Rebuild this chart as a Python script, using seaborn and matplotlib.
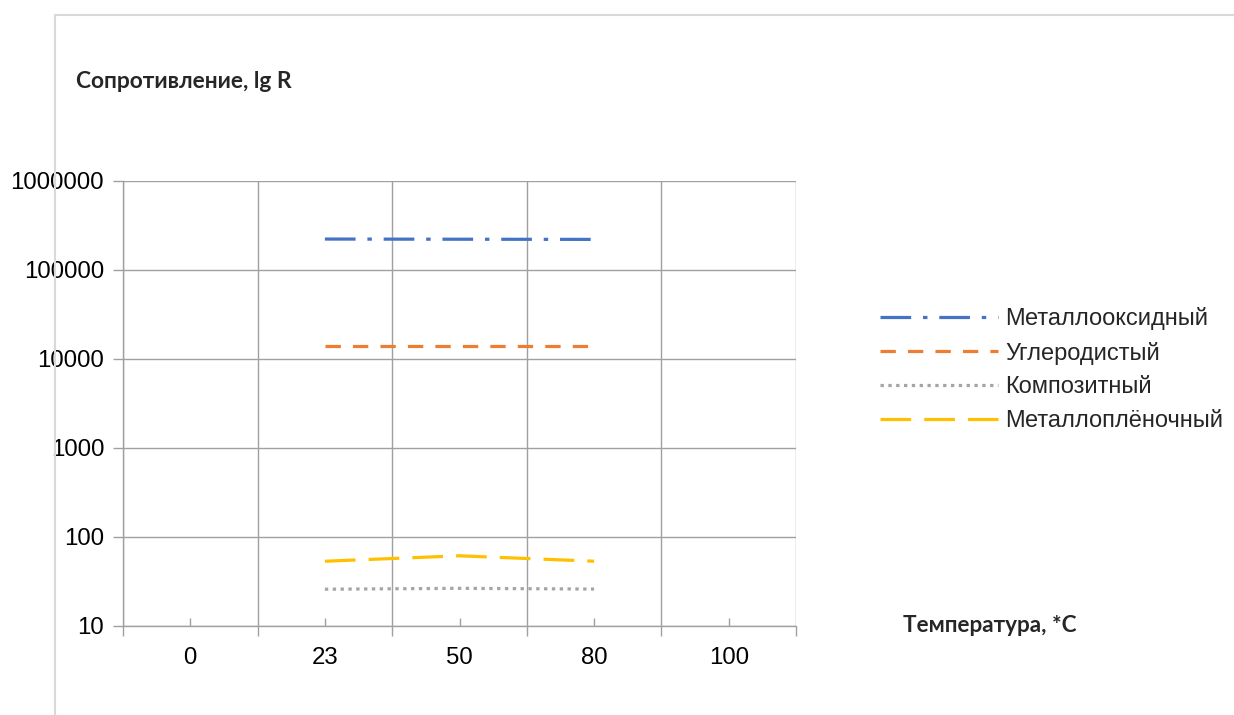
import numpy as np
import pandas as pd
import seaborn as sns
import matplotlib.pyplot as plt
from matplotlib.lines import Line2D
from matplotlib.ticker import FixedLocator, NullLocator

# categories on the x axis (temperature, *C)
temps = ['0', '23', '50', '80', '100']
measured = ['23', '50', '80']

# resistance values for the measured temperatures
metal_oxide = [221000, 220000, 219000]
carbon = [14000, 14000, 14000]
composite = [25.7, 26.3, 25.8]
metal_film = [53, 61, 53]

series_names = ['Металлооксидный', 'Углеродистый', 'Композитный', 'Металлоплёночный']
series_values = [metal_oxide, carbon, composite, metal_film]

y_ticks = [10, 100, 1000, 10000, 100000, 1000000]
y_tick_labels = ['10', '100', '1000', '10000', '100000', '1000000']

rows = []
for name, vals in zip(series_names, series_values):
    for t, v in zip(measured, vals):
        rows.append({'pos': temps.index(t), 'R': v, 'series': name})
df = pd.DataFrame(rows)

palette = {
    'Металлооксидный': '#4472C4',
    'Углеродистый': '#ED7D31',
    'Композитный': '#A5A5A5',
    'Металлоплёночный': '#FFC000',
}
dashes = {
    'Металлооксидный': (9.6, 3.7, 1.4, 3.7),
    'Углеродистый': (4.8, 3.8),
    'Композитный': (1.05, 1.4),
    'Металлоплёночный': (9.6, 4.1),
}

sns.set_theme(style="white")
plt.rcParams['font.family'] = ['Liberation Sans', 'DejaVu Sans']

GRID = '#a0a0a0'

fig = plt.figure(figsize=(12.34, 7.15), dpi=100)
ax = fig.add_axes([123 / 1234, 1 - 625.7 / 715, 673 / 1234, 445 / 715])

sns.lineplot(
    data=df, x='pos', y='R', hue='series', style='series',
    hue_order=series_names, style_order=series_names,
    palette=palette, dashes=dashes, linewidth=2.3,
    estimator=None, sort=False, ax=ax
)

ax.set_yscale('log')
ax.set_ylim(10, 1000000)
ax.set_xlim(-0.5, len(temps) - 0.5)

ax.yaxis.set_major_locator(FixedLocator(y_ticks))
ax.set_yticklabels(y_tick_labels)
ax.yaxis.set_minor_locator(NullLocator())

ax.xaxis.set_major_locator(FixedLocator(range(len(temps))))
ax.set_xticklabels(temps)
ax.xaxis.set_minor_locator(FixedLocator(np.arange(len(temps) + 1) - 0.5))

ax.set_xlabel('')
ax.set_ylabel('')

ax.tick_params(axis='y', which='major', direction='out', length=7.5, width=1,
               color=GRID, labelsize=17.3, labelcolor='black', pad=6, left=True)
ax.tick_params(axis='x', which='major', direction='in', length=5.5, width=1,
               color=GRID, labelsize=17.3, labelcolor='black', pad=15, bottom=True)
ax.tick_params(axis='x', which='minor', direction='out', length=7.5, width=1,
               color=GRID, bottom=True)

ax.grid(True, axis='y', which='major', color=GRID, linewidth=1.0)
ax.grid(True, axis='x', which='minor', color=GRID, linewidth=1.0)
ax.grid(False, axis='x', which='major')
ax.set_axisbelow(True)

for side in ['top', 'right']:
    ax.spines[side].set_visible(False)
for side in ['left', 'bottom']:
    ax.spines[side].set_color(GRID)
    ax.spines[side].set_linewidth(1.0)

sns.move_legend(
    ax, 'center left', bbox_to_anchor=(880 / 1234, 1 - 369.5 / 715),
    bbox_transform=fig.transFigure, title=None, frameon=False,
    fontsize=17, handlelength=5.0, handletextpad=0.3, labelspacing=0.5,
    borderpad=0, borderaxespad=0
)

title_font = ['Lato', 'DejaVu Sans']
fig.text(76 / 1234, 1 - 82 / 715, 'Сопротивление, lg R', fontsize=16.4,
         fontweight='bold', family=title_font, ha='left', va='center')
fig.text(903 / 1234, 1 - 626 / 715, 'Температура, *С', fontsize=16.2,
         fontweight='bold', family=title_font, ha='left', va='center')

# outer chart border (partly visible)
fig.add_artist(Line2D([55 / 1234, 55 / 1234], [0, 1 - 14.5 / 715],
                      color='#d9d9d9', linewidth=1.5, transform=fig.transFigure))
fig.add_artist(Line2D([55 / 1234, 1], [1 - 14.5 / 715, 1 - 14.5 / 715],
                      color='#d9d9d9', linewidth=1.5, transform=fig.transFigure))

fig.savefig('out.png', dpi=100)
plt.close(fig)
